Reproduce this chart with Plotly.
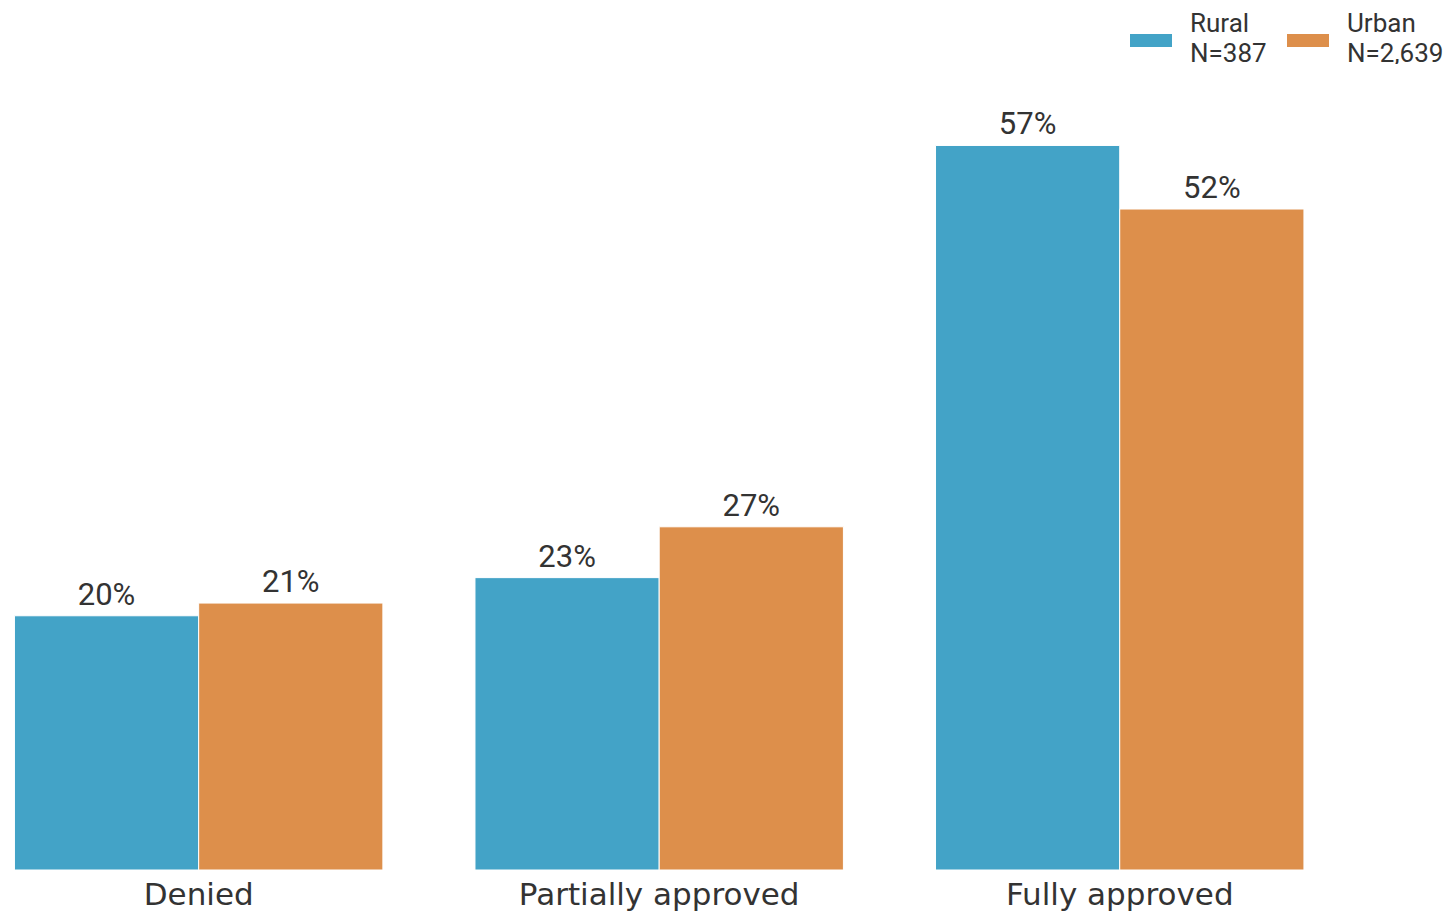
import plotly.graph_objects as go

# Dados
categorias = ["Denied", "Partially approved", "Fully approved"]
rural = [20, 23, 57]
urban = [21, 27, 52]
nome_rural, n_rural = "Rural", "N=387"
nome_urban, n_urban = "Urban", "N=2,639"

AZUL = "#43A3C7"
LARANJA = "#DD8F4B"
TEXTO = "#333333"

# A página tem margem de 8px no body: figura um pouco menor
LARG, ALT = 1447, 907
M_L, M_R, M_T, M_B = 0, 105, 72, 45
PW, PH = LARG - M_L - M_R, ALT - M_T - M_B

fig = go.Figure()

for valores, cor, nome in [(rural, AZUL, nome_rural), (urban, LARANJA, nome_urban)]:
    fig.add_trace(go.Bar(
        x=categorias, y=valores, name=nome,
        marker=dict(color=cor, line=dict(color="white", width=1)),
        texttemplate="%{y}%", textposition="outside",
        textfont=dict(family="Roboto", size=31, color=TEXTO),
        cliponaxis=False,
    ))

fig.update_layout(
    width=LARG, height=ALT,
    barmode="group", bargap=0.2, bargroupgap=0,
    plot_bgcolor="white", paper_bgcolor="white",
    margin=dict(l=M_L, r=M_R, t=M_T, b=M_B),
    showlegend=False,
)

fig.update_xaxes(
    range=[-0.414, 2.5], showgrid=False, showline=False, ticks="",
    ticklabelstandoff=3,
    tickfont=dict(family="DejaVu Sans", size=31, color=TEXTO),
)
fig.update_yaxes(range=[0, 62.15], visible=False)


def px_x(p):
    return (p - 8 - M_L) / PW


def px_y(p):
    return (ALT - M_B - (p - 8)) / PH


# Legenda desenhada à mão (amostras retangulares largas como no original)
itens = [(nome_rural, n_rural, AZUL, 1130), (nome_urban, n_urban, LARANJA, 1287)]
for nome, n, cor, x0 in itens:
    fig.add_shape(type="rect", xref="paper", yref="paper",
                  x0=px_x(x0), x1=px_x(x0 + 42),
                  y0=px_y(47), y1=px_y(34),
                  fillcolor=cor, line=dict(width=0))
    for linha, yc in [(nome, 23), (n, 53)]:
        fig.add_annotation(xref="paper", yref="paper",
                           x=px_x(x0 + 59), y=px_y(yc),
                           xanchor="left", yanchor="middle",
                           height=22, valign="middle", borderpad=0,
                           text=linha, showarrow=False,
                           font=dict(family="Roboto", size=26, color=TEXTO))

fig.write_html("out.html")
